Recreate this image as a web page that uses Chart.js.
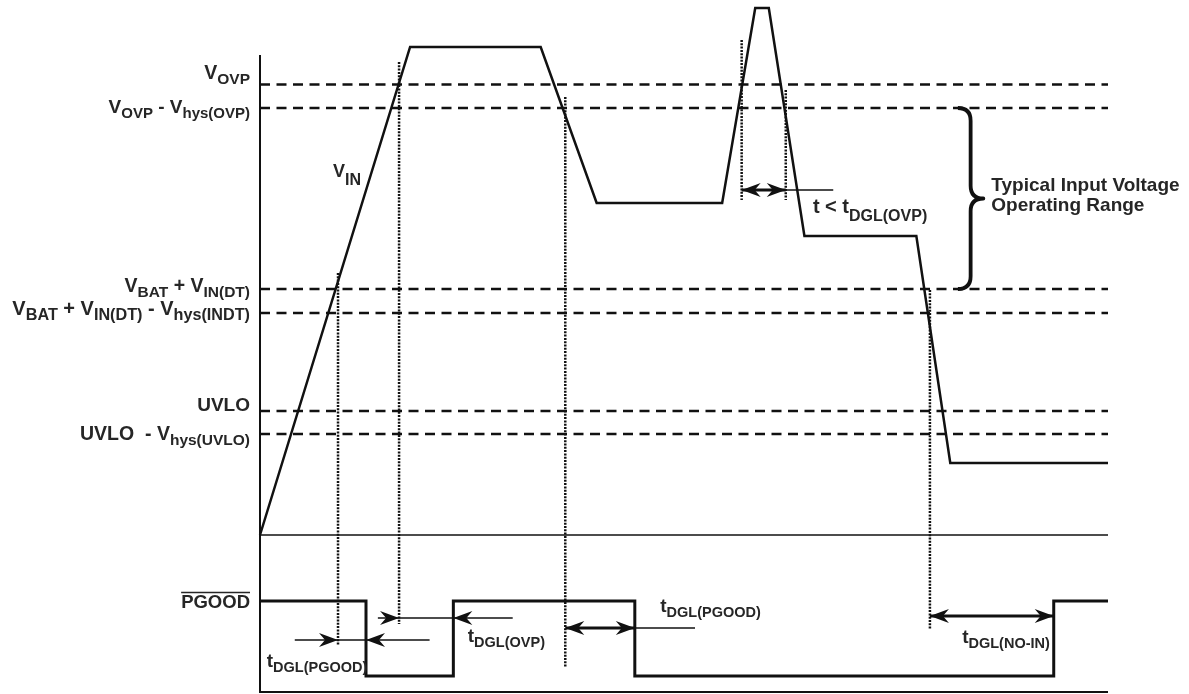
<!DOCTYPE html>
<html>
<head>
<meta charset="utf-8">
<script src="https://cdn.jsdelivr.net/npm/chart.js@4.4.1/dist/chart.umd.min.js"></script>
<style>
  html, body { margin: 0; padding: 0; background: #fff; }
  #wrap { width: 1189px; height: 694px; position: relative; }
</style>
</head>
<body>
<div id="wrap"><canvas id="timing"></canvas></div>
<script>
// time runs 0..100 (arbitrary units), VIN in arbitrary volts, PGOOD is a logic level 0/1
const vinTime  = [0, 17.7, 33.1, 39.7, 54.5, 58.4, 60.0, 64.2, 77.4, 81.4, 100];
const vinLevel = [0, 9.76, 9.76, 6.64, 6.64, 10.54, 10.54, 5.98, 5.98, 1.44, 1.44];

const pgoodTime  = [0, 12.5, 12.5, 22.8, 22.8, 44.2, 44.2, 93.6, 93.6, 100];
const pgoodLevel = [1, 1, 0, 0, 1, 1, 0, 0, 1, 1];

const thresholdNames  = ['V_{OVP}', 'V_{OVP} - V_{hys(OVP)}', 'V_{BAT} + V_{IN(DT)}',
                         'V_{BAT} + V_{IN(DT)} - V_{hys(INDT)}', 'UVLO', 'UVLO  - V_{hys(UVLO)}'];
const thresholdLevels = [9.01, 8.54, 4.92, 4.44, 2.48, 2.02];

// dotted event markers: time, top and bottom (volts)
const markerTimes   = [9.2, 16.4, 36.0, 56.8, 62.0, 79.0];
const markerTops    = [5.24, 9.46, 8.76, 9.9, 8.9, 4.9];
const markerBottoms = [-2.22, -1.78, -2.64, 6.7, 6.7, -1.88];

// arrows: [start, end, level, axis]
const thinShafts  = [[4.1, 20.0, 0.48, 'pg'], [13.9, 29.8, 0.773, 'pg'], [44.2, 51.3, 0.64, 'pg'], [62.0, 67.6, 6.9, 'y']];
const thickShafts = [[36.0, 44.2, 0.64, 'pg'], [79.0, 93.6, 0.8, 'pg'], [56.8, 62.0, 6.9, 'y']];
// arrow tips: [time, level, axis, direction]
const arrowTips = [[9.2, 0.48, 'pg', 1], [12.5, 0.48, 'pg', -1], [16.4, 0.773, 'pg', 1], [22.8, 0.773, 'pg', -1],
                   [36.0, 0.64, 'pg', -1], [44.2, 0.64, 'pg', 1], [79.0, 0.8, 'pg', -1], [93.6, 0.8, 'pg', 1],
                   [56.8, 6.9, 'y', -1], [62.0, 6.9, 'y', 1]];

const INK = '#111';
const TXT = '#262626';
const FONT = '"Liberation Sans", Arial, sans-serif';

function pts(xs, ys) { return xs.map((x, i) => ({ x: x, y: ys[i] })); }

const datasets = [];
datasets.push({ data: pts(vinTime, vinLevel), yAxisID: 'y', borderColor: INK, borderWidth: 2.5 });
datasets.push({ data: pts(pgoodTime, pgoodLevel), yAxisID: 'pg', borderColor: INK, borderWidth: 3 });
thresholdLevels.forEach(l => {
  datasets.push({ data: [{ x: 0, y: l }, { x: 100, y: l }], yAxisID: 'y', borderColor: INK, borderWidth: 2.7, borderDash: [10, 6.5] });
});
markerTimes.forEach((t, i) => {
  datasets.push({ data: [{ x: t, y: markerTops[i] }, { x: t, y: markerBottoms[i] }], yAxisID: 'y', borderColor: INK, borderWidth: 2.5, borderDash: [2, 1.3] });
});
// zero line and frame
datasets.push({ data: [{ x: 0, y: 0 }, { x: 100, y: 0 }], yAxisID: 'y', borderColor: INK, borderWidth: 1.5 });
datasets.push({ data: [{ x: 0, y: 9.6 }, { x: 0, y: -3.14 }, { x: 100, y: -3.14 }], yAxisID: 'y', borderColor: INK, borderWidth: 2 });
thinShafts.forEach(s => {
  datasets.push({ data: [{ x: s[0], y: s[2] }, { x: s[1], y: s[2] }], yAxisID: s[3], borderColor: INK, borderWidth: 1.5 });
});
thickShafts.forEach(s => {
  datasets.push({ data: [{ x: s[0], y: s[2] }, { x: s[1], y: s[2] }], yAxisID: s[3], borderColor: INK, borderWidth: 3.2 });
});
datasets.forEach(d => { d.showLine = true; d.pointRadius = 0; d.clip = false; d.borderJoinStyle = 'miter'; });

function splitRich(s) {
  const out = []; const re = /_\{([^}]*)\}/g; let last = 0, m;
  while ((m = re.exec(s))) {
    if (m.index > last) out.push([s.slice(last, m.index), false]);
    out.push([m[1], true]);
    last = re.lastIndex;
  }
  if (last < s.length) out.push([s.slice(last), false]);
  return out;
}

function drawRich(ctx, s, x, y, main, sub, drop, align) {
  const parts = splitRich(s);
  const fm = 'bold ' + main + 'px ' + FONT, fs = 'bold ' + sub + 'px ' + FONT;
  let w = 0;
  parts.forEach(p => { ctx.font = p[1] ? fs : fm; w += ctx.measureText(p[0]).width; });
  let cx = align === 'right' ? x - w : x;
  parts.forEach(p => {
    ctx.font = p[1] ? fs : fm;
    ctx.fillText(p[0], cx, p[1] ? y + drop : y);
    cx += ctx.measureText(p[0]).width;
  });
  return w;
}

const labelOffsets = [-5.5, 5, 3, 2, 0, 6];
const labelSizes = [[19.5, 15.5], [19, 15], [19.5, 15.5], [20, 16.2], [19, 15], [19.5, 15.5]];

const textNotes = [
  { s: 't_{DGL(PGOOD)}', t: 0.8, l: 0.12, axis: 'pg', main: 19, sub: 14.5, drop: 5 },
  { s: 't_{DGL(OVP)}', t: 24.5, l: 0.453, axis: 'pg', main: 19, sub: 14.5, drop: 5 },
  { s: 't_{DGL(PGOOD)}', t: 47.2, l: 0.853, axis: 'pg', main: 19, sub: 14.5, drop: 5 },
  { s: 't_{DGL(NO-IN)}', t: 82.8, l: 0.44, axis: 'pg', main: 19, sub: 14.5, drop: 5 },
  { s: 't < t_{DGL(OVP)}', t: 65.2, l: 6.44, axis: 'y', main: 20, sub: 16, drop: 8 },
  { s: 'V_{IN}', t: 8.6, l: 7.16, axis: 'y', main: 18, sub: 16, drop: 8 }
];

const overlay = {
  id: 'overlay',
  afterDatasetsDraw(chart) {
    const ctx = chart.ctx, xs = chart.scales.x;
    ctx.save();
    ctx.fillStyle = INK; ctx.strokeStyle = INK;

    // arrow heads
    arrowTips.forEach(a => {
      const x = xs.getPixelForValue(a[0]), y = chart.scales[a[2]].getPixelForValue(a[1]), d = a[3];
      const L = 19, W = 7, N = 6;
      ctx.beginPath();
      ctx.moveTo(x, y);
      ctx.lineTo(x - d * L, y - W);
      ctx.lineTo(x - d * (L - N), y);
      ctx.lineTo(x - d * L, y + W);
      ctx.closePath();
      ctx.fill();
    });

    // brace for operating range
    const ys = chart.scales.y;
    const xe = xs.getPixelForValue(82.3), xsp = xs.getPixelForValue(83.8), xt = xs.getPixelForValue(85.3);
    const yTop = ys.getPixelForValue(thresholdLevels[1]), yBot = ys.getPixelForValue(thresholdLevels[2]);
    const yMid = (yTop + yBot) / 2, r = xsp - xe;
    ctx.lineWidth = 3.8; ctx.lineJoin = 'round';
    ctx.beginPath();
    ctx.moveTo(xe, yTop);
    ctx.quadraticCurveTo(xsp, yTop, xsp, yTop + r);
    ctx.lineTo(xsp, yMid - r);
    ctx.quadraticCurveTo(xsp, yMid, xt, yMid);
    ctx.quadraticCurveTo(xsp, yMid, xsp, yMid + r);
    ctx.lineTo(xsp, yBot - r);
    ctx.quadraticCurveTo(xsp, yBot, xe, yBot);
    ctx.stroke();

    // texts
    ctx.fillStyle = TXT;
    ctx.textBaseline = 'alphabetic';
    thresholdNames.forEach((n, i) => {
      drawRich(ctx, n, 250, ys.getPixelForValue(thresholdLevels[i]) + labelOffsets[i], labelSizes[i][0], labelSizes[i][1], 5, 'right');
    });
    textNotes.forEach(n => {
      drawRich(ctx, n.s, xs.getPixelForValue(n.t), chart.scales[n.axis].getPixelForValue(n.l), n.main, n.sub, n.drop, 'left');
    });
    ctx.font = 'bold 19px ' + FONT;
    ctx.fillText('Typical Input Voltage', xt + 8, ys.getPixelForValue(6.88));
    ctx.fillText('Operating Range', xt + 8, ys.getPixelForValue(6.48));

    // PGOOD with overline
    const pgY = chart.scales.pg.getPixelForValue(0.907);
    ctx.font = 'bold 18.5px ' + FONT;
    const w = ctx.measureText('PGOOD').width;
    ctx.fillText('PGOOD', 250 - w, pgY);
    ctx.lineWidth = 1.5; ctx.strokeStyle = TXT;
    ctx.beginPath(); ctx.moveTo(250 - w, pgY - 15.5); ctx.lineTo(250, pgY - 15.5); ctx.stroke();
    ctx.restore();
  }
};

new Chart(document.getElementById('timing'), {
  type: 'scatter',
  data: { datasets: datasets },
  options: {
    responsive: true,
    maintainAspectRatio: false,
    animation: false,
    events: [],
    layout: { padding: { left: 260, right: 81, top: 0, bottom: 0 } },
    plugins: { legend: { display: false }, tooltip: { enabled: false } },
    scales: {
      x: { type: 'linear', min: 0, max: 100, display: false },
      y: { type: 'linear', min: -3.18, max: 10.7, display: false },
      pg: { type: 'linear', min: -0.24, max: 9.0133, display: false }
    }
  },
  plugins: [overlay]
});
</script>
</body>
</html>
